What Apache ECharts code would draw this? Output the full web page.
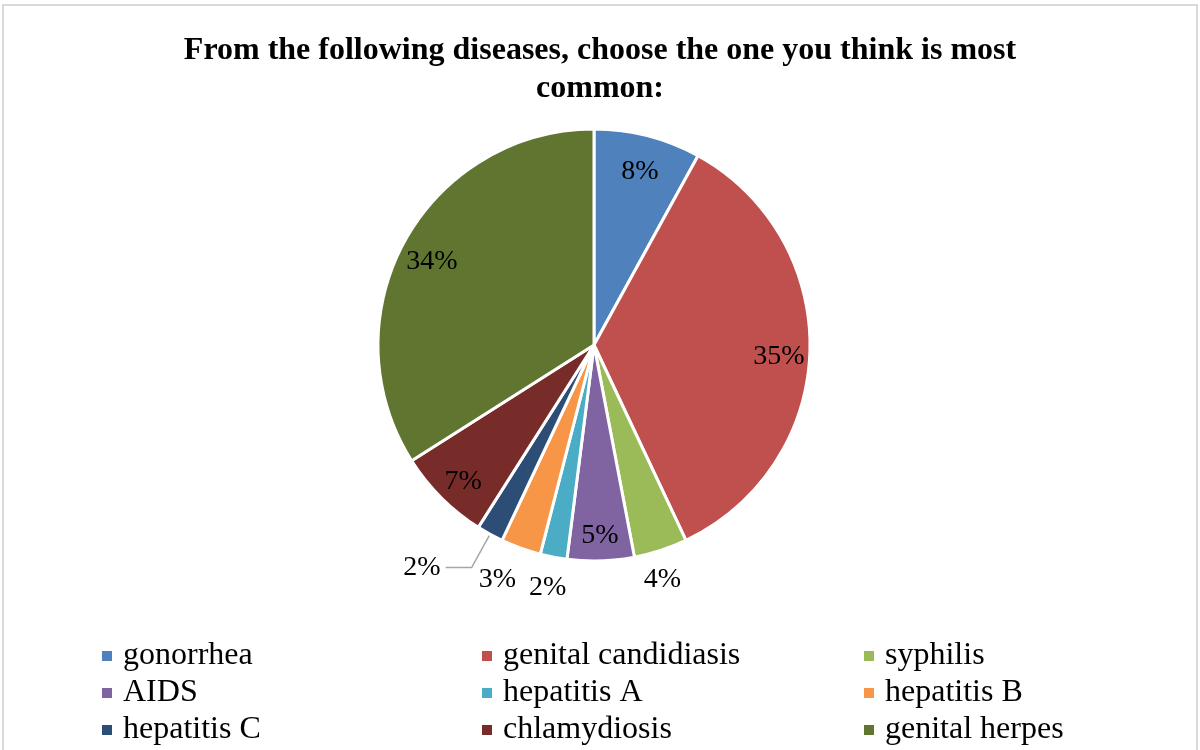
<!DOCTYPE html>
<html>
<head>
<meta charset="utf-8">
<script src="https://cdn.jsdelivr.net/npm/echarts@6/dist/echarts.min.js"></script>
<style>
  html, body { margin: 0; padding: 0; background: #fff; }
  #chart { width: 1200px; height: 750px; }
</style>
</head>
<body>
<div id="chart"></div>
<script>
// Survey answers: which disease respondents believe is most common (percent)
const categories = [
  'gonorrhea', 'genital candidiasis', 'syphilis',
  'AIDS', 'hepatitis A', 'hepatitis B',
  'hepatitis C', 'chlamydiosis', 'genital herpes'
];
const shares = [8, 35, 4, 5, 2, 3, 2, 7, 34];
const colors = [
  '#4F81BD', '#C0504D', '#9BBB59',
  '#8064A2', '#4BACC6', '#F79646',
  '#2C4D75', '#772C2A', '#5F7530'
];
// where each slice's percentage is written
const insideLabels = ['gonorrhea', 'genital candidiasis', 'AIDS', 'chlamydiosis', 'genital herpes'];
const outsideLabels = ['syphilis', 'hepatitis A', 'hepatitis B'];
const leaderLabels = ['hepatitis C'];
// legend columns (read top to bottom)
const legendColumns = [
  ['gonorrhea', 'AIDS', 'hepatitis C'],
  ['genital candidiasis', 'hepatitis A', 'chlamydiosis'],
  ['syphilis', 'hepatitis B', 'genital herpes']
];
const titleText = 'From the following diseases, choose the one you think is most\ncommon:';

const serif = '"Liberation Serif", "Times New Roman", serif';
const center = [594, 345];
const R = 216;

const labelText = {
  color: '#000', fontFamily: serif, fontSize: 28, formatter: '{c}%'
};

const mainData = categories.map((name, i) => {
  const item = { name, value: shares[i], itemStyle: { color: colors[i] } };
  if (leaderLabels.includes(name)) {
    item.label = Object.assign({ show: true, position: 'outside' }, labelText);
    item.labelLine = {
      show: true, length: 38, length2: 26, smooth: false,
      lineStyle: { color: '#a6a6a6', width: 1.5 }
    };
  }
  return item;
});

// transparent rings that only carry text at a chosen radius
function labelRing(names, radius, layout) {
  return {
    type: 'pie',
    center, radius,
    startAngle: 90, clockwise: true,
    silent: true, avoidLabelOverlap: false,
    itemStyle: { color: 'rgba(0,0,0,0)', borderWidth: 0 },
    emphasis: { disabled: true },
    labelLine: { show: false },
    labelLayout: layout,
    data: categories.map((name, i) => ({
      name, value: shares[i],
      itemStyle: { color: 'rgba(0,0,0,0)' },
      label: Object.assign({ show: names.includes(name), position: 'inside' }, labelText)
    }))
  };
}

// small outside labels: spread the crowded ones apart a little
function outsideNudge(p) {
  const name = categories[p.dataIndex];
  if (name === 'hepatitis B') return { dx: -13, dy: 2 };
  if (name === 'syphilis') return { dx: -8 };
  return {};
}

const legendLefts = [100, 480, 862];
const legends = legendColumns.map((col, c) => ({
  orient: 'vertical',
  left: legendLefts[c], top: 640, height: 110,
  padding: 0,
  icon: 'rect', itemWidth: 12, itemHeight: 12, itemGap: 5,
  selectedMode: false,
  textStyle: {
    fontFamily: serif, fontSize: 32, lineHeight: 32, color: '#000',
    padding: [0, 0, 0, 5]
  },
  data: col.map(name => ({
    name, itemStyle: { color: colors[categories.indexOf(name)] }
  }))
}));

const chart = echarts.init(document.getElementById('chart'), null, { renderer: 'canvas' });
chart.setOption({
  animation: false,
  backgroundColor: '#fff',
  title: {
    text: titleText,
    left: 'center', top: 27,
    textStyle: {
      fontFamily: serif, fontSize: 32, fontWeight: 'bold',
      color: '#000', lineHeight: 38
    }
  },
  graphic: [{
    type: 'rect', silent: true,
    shape: { x: 3, y: 5, width: 1194, height: 770 },
    style: { fill: 'none', stroke: '#d9d9d9', lineWidth: 2 }
  }],
  legend: legends,
  series: [
    {
      type: 'pie',
      center, radius: R,
      startAngle: 90, clockwise: true,
      avoidLabelOverlap: false,
      itemStyle: { borderColor: '#fff', borderWidth: 3 },
      emphasis: { scale: false },
      label: { show: false },
      labelLine: { show: false },
      data: mainData
    },
    labelRing(insideLabels, [148, R], { dy: 6 }),
    labelRing(outsideLabels, [R, 272], outsideNudge)
  ]
});
</script>
</body>
</html>
